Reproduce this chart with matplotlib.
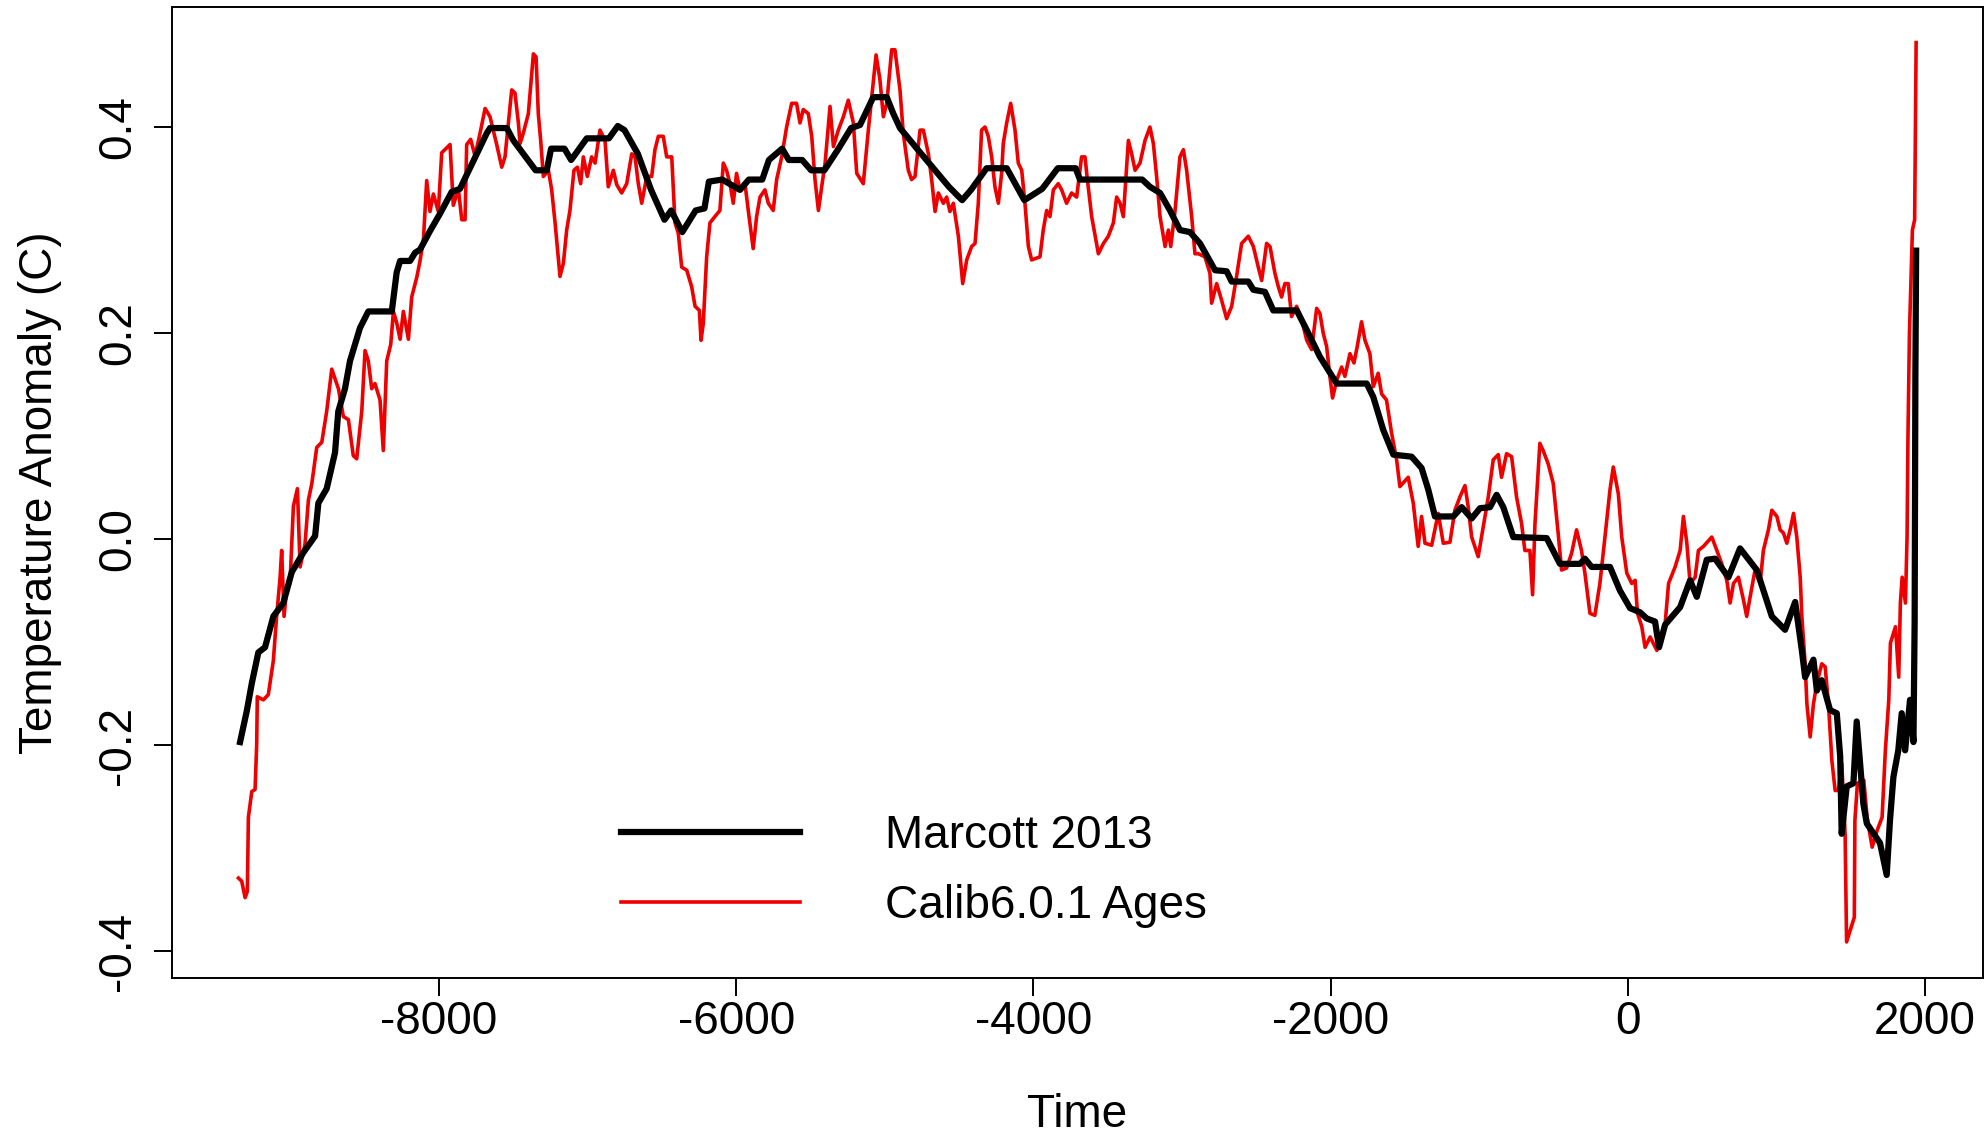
import matplotlib.pyplot as plt
from matplotlib.lines import Line2D

plt.rcParams['font.family'] = ['Liberation Sans', 'DejaVu Sans']
plt.rcParams['axes.unicode_minus'] = False

# Marcott 2013 reconstruction
marcott_year = [-9339, -9294, -9260, -9216, -9171, -9115, -9048, -8991, -8913, -8834,
                -8812, -8756, -8700, -8678, -8633, -8599, -8532, -8476, -8318, -8285,
                -8262, -8195, -8161, -8128, -8061, -7993, -7915, -7859, -7769, -7679,
                -7657, -7544, -7500, -7350, -7275, -7246, -7156, -7111, -7006, -6857,
                -6797, -6752, -6662, -6573, -6483, -6438, -6363, -6273, -6214, -6184,
                -6094, -5975, -5915, -5825, -5780, -5691, -5646, -5556, -5496, -5407,
                -5316, -5227, -5167, -5078, -4987, -4943, -4898, -4778, -4644, -4569,
                -4480, -4420, -4315, -4180, -4061, -3941, -3836, -3716, -3687, -3268,
                -3216, -3148, -3081, -3014, -2947, -2879, -2778, -2700, -2666, -2554,
                -2520, -2442, -2386, -2228, -2161, -2072, -1959, -1757, -1713, -1646,
                -1578, -1455, -1388, -1343, -1298, -1174, -1118, -1051, -995, -928,
                -883, -838, -771, -546, -457, -322, -289, -244, -120, -53,
                15, 82, 127, 183, 210, 251, 352, 419, 464, 531,
                587, 677, 755, 868, 969, 1058, 1126, 1171, 1193, 1249,
                1272, 1305, 1361, 1406, 1429, 1439, 1473, 1518, 1540, 1585,
                1608, 1697, 1742, 1764, 1787, 1820, 1843, 1866, 1899, 1922,
                1930, 1935, 1940]
marcott_temp = [-0.197, -0.167, -0.140, -0.110, -0.105, -0.075, -0.062, -0.032, -0.013, 0.003,
                0.035, 0.049, 0.084, 0.124, 0.146, 0.173, 0.205, 0.221, 0.221, 0.259,
                0.270, 0.270, 0.278, 0.281, 0.299, 0.316, 0.337, 0.340, 0.367, 0.394,
                0.399, 0.399, 0.387, 0.358, 0.358, 0.379, 0.379, 0.368, 0.389, 0.389,
                0.401, 0.397, 0.374, 0.339, 0.310, 0.319, 0.298, 0.319, 0.321, 0.347,
                0.349, 0.339, 0.349, 0.349, 0.368, 0.379, 0.368, 0.368, 0.358, 0.358,
                0.378, 0.399, 0.402, 0.429, 0.429, 0.413, 0.399, 0.378, 0.355, 0.342,
                0.329, 0.339, 0.360, 0.360, 0.329, 0.340, 0.360, 0.360, 0.349, 0.349,
                0.342, 0.336, 0.319, 0.300, 0.298, 0.287, 0.261, 0.260, 0.250, 0.250,
                0.242, 0.240, 0.222, 0.222, 0.203, 0.177, 0.151, 0.151, 0.138, 0.106,
                0.082, 0.080, 0.069, 0.048, 0.022, 0.022, 0.031, 0.020, 0.030, 0.031,
                0.043, 0.031, 0.002, 0.001, -0.024, -0.024, -0.019, -0.027, -0.027, -0.050,
                -0.067, -0.071, -0.077, -0.080, -0.105, -0.083, -0.066, -0.040, -0.056, -0.020,
                -0.019, -0.037, -0.009, -0.030, -0.075, -0.088, -0.061, -0.108, -0.134, -0.117,
                -0.147, -0.137, -0.166, -0.169, -0.211, -0.286, -0.240, -0.237, -0.177, -0.257,
                -0.276, -0.295, -0.326, -0.273, -0.231, -0.205, -0.169, -0.205, -0.156, -0.197,
                -0.080, 0.160, 0.280]

# Calib6.0.1 ages version
calib_year = [-9350, -9328, -9305, -9290, -9283, -9260, -9238, -9227, -9223, -9182,
              -9149, -9115, -9093, -9070, -9059, -9043, -9025, -9003, -8980, -8953,
              -8935, -8902, -8879, -8856, -8823, -8789, -8756, -8722, -8677, -8644,
              -8610, -8577, -8554, -8520, -8498, -8476, -8453, -8431, -8397, -8375,
              -8352, -8325, -8307, -8285, -8262, -8240, -8206, -8184, -8150, -8128,
              -8105, -8083, -8061, -8038, -8005, -7982, -7926, -7904, -7870, -7847,
              -7825, -7814, -7787, -7758, -7724, -7690, -7657, -7612, -7578, -7556,
              -7511, -7489, -7466, -7455, -7433, -7399, -7376, -7365, -7347, -7332,
              -7316, -7298, -7264, -7242, -7219, -7186, -7163, -7141, -7119, -7092,
              -7069, -7047, -7029, -7002, -6973, -6950, -6917, -6883, -6861, -6827,
              -6804, -6771, -6737, -6703, -6681, -6659, -6636, -6602, -6569, -6547,
              -6524, -6491, -6468, -6434, -6412, -6390, -6367, -6333, -6300, -6277,
              -6248, -6237, -6222, -6199, -6177, -6144, -6110, -6087, -6065, -6042,
              -6020, -5998, -5975, -5941, -5919, -5886, -5863, -5840, -5807, -5784,
              -5751, -5728, -5694, -5661, -5627, -5594, -5571, -5549, -5515, -5492,
              -5470, -5447, -5425, -5402, -5369, -5346, -5313, -5279, -5246, -5212,
              -5189, -5145, -5111, -5088, -5059, -5033, -5010, -4987, -4954, -4932,
              -4898, -4876, -4842, -4820, -4797, -4763, -4741, -4707, -4685, -4662,
              -4640, -4606, -4584, -4562, -4539, -4505, -4476, -4449, -4416, -4393,
              -4371, -4349, -4326, -4304, -4281, -4259, -4236, -4214, -4203, -4180,
              -4153, -4124, -4102, -4079, -4057, -4034, -4012, -3956, -3934, -3911,
              -3889, -3866, -3833, -3810, -3777, -3743, -3709, -3676, -3653, -3637,
              -3608, -3563, -3529, -3496, -3462, -3440, -3417, -3395, -3361, -3339,
              -3316, -3283, -3249, -3216, -3193, -3171, -3148, -3114, -3092, -3076,
              -3047, -3014, -2991, -2969, -2935, -2913, -2890, -2846, -2812, -2801,
              -2767, -2734, -2700, -2666, -2633, -2599, -2554, -2520, -2487, -2464,
              -2431, -2408, -2375, -2352, -2330, -2308, -2285, -2263, -2229, -2195,
              -2161, -2128, -2094, -2072, -2050, -2027, -2005, -1987, -1960, -1926,
              -1904, -1870, -1843, -1821, -1792, -1769, -1736, -1713, -1680, -1657,
              -1624, -1590, -1556, -1534, -1478, -1444, -1411, -1388, -1365, -1320,
              -1276, -1242, -1197, -1164, -1130, -1096, -1074, -1051, -1007, -973,
              -939, -906, -872, -850, -816, -782, -749, -715, -693, -659,
              -641, -625, -592, -570, -536, -502, -469, -446, -412, -379,
              -345, -312, -289, -255, -222, -188, -154, -120, -98, -64,
              -41, -7, 26, 49, 65, 94, 116, 150, 195, 251,
              274, 318, 352, 374, 397, 419, 453, 475, 509, 565,
              599, 632, 666, 688, 711, 744, 778, 800, 823, 856,
              890, 912, 946, 969, 1003, 1025, 1047, 1070, 1092, 1115,
              1137, 1160, 1171, 1193, 1205, 1227, 1249, 1272, 1305, 1328,
              1350, 1373, 1395, 1417, 1440, 1462, 1472, 1524, 1528, 1545,
              1588, 1610, 1644, 1677, 1711, 1733, 1756, 1767, 1801, 1823,
              1834, 1846, 1868, 1879, 1885, 1895, 1915, 1930, 1940]
calib_temp = [-0.329, -0.332, -0.348, -0.342, -0.270, -0.245, -0.243, -0.199, -0.153, -0.156,
              -0.151, -0.118, -0.075, -0.038, -0.011, -0.075, -0.048, -0.043, 0.032, 0.049,
              -0.027, -0.005, 0.038, 0.054, 0.089, 0.094, 0.124, 0.165, 0.146, 0.119,
              0.116, 0.081, 0.078, 0.124, 0.183, 0.173, 0.146, 0.151, 0.135, 0.086,
              0.173, 0.189, 0.221, 0.210, 0.194, 0.221, 0.194, 0.235, 0.254, 0.270,
              0.291, 0.348, 0.318, 0.335, 0.318, 0.375, 0.383, 0.324, 0.340, 0.310,
              0.310, 0.383, 0.388, 0.372, 0.394, 0.418, 0.410, 0.383, 0.361, 0.371,
              0.436, 0.433, 0.404, 0.384, 0.394, 0.413, 0.452, 0.471, 0.468, 0.413,
              0.387, 0.352, 0.358, 0.339, 0.307, 0.255, 0.268, 0.300, 0.319, 0.358,
              0.361, 0.345, 0.371, 0.352, 0.371, 0.365, 0.397, 0.387, 0.342, 0.358,
              0.344, 0.336, 0.345, 0.374, 0.371, 0.345, 0.326, 0.352, 0.352, 0.378,
              0.391, 0.391, 0.371, 0.371, 0.307, 0.297, 0.264, 0.261, 0.245, 0.226,
              0.222, 0.193, 0.209, 0.274, 0.307, 0.313, 0.319, 0.365, 0.358, 0.345,
              0.326, 0.355, 0.339, 0.345, 0.319, 0.282, 0.313, 0.332, 0.339, 0.326,
              0.319, 0.349, 0.371, 0.400, 0.423, 0.423, 0.404, 0.417, 0.413, 0.391,
              0.349, 0.319, 0.342, 0.365, 0.420, 0.381, 0.397, 0.410, 0.426, 0.404,
              0.355, 0.345, 0.397, 0.429, 0.470, 0.446, 0.410, 0.423, 0.475, 0.475,
              0.436, 0.394, 0.358, 0.349, 0.352, 0.397, 0.397, 0.374, 0.349, 0.318,
              0.336, 0.326, 0.332, 0.318, 0.326, 0.294, 0.248, 0.271, 0.284, 0.287,
              0.326, 0.397, 0.400, 0.391, 0.371, 0.342, 0.326, 0.355, 0.384, 0.404,
              0.423, 0.397, 0.365, 0.358, 0.326, 0.284, 0.271, 0.274, 0.300, 0.319,
              0.313, 0.339, 0.345, 0.339, 0.326, 0.336, 0.332, 0.371, 0.371, 0.349,
              0.313, 0.277, 0.287, 0.294, 0.307, 0.332, 0.326, 0.313, 0.387, 0.374,
              0.358, 0.365, 0.387, 0.400, 0.384, 0.352, 0.313, 0.284, 0.300, 0.284,
              0.319, 0.371, 0.378, 0.358, 0.313, 0.277, 0.277, 0.274, 0.258, 0.229,
              0.248, 0.232, 0.214, 0.226, 0.255, 0.287, 0.294, 0.284, 0.264, 0.251,
              0.287, 0.284, 0.258, 0.245, 0.235, 0.248, 0.248, 0.216, 0.226, 0.213,
              0.193, 0.184, 0.224, 0.219, 0.200, 0.187, 0.158, 0.137, 0.154, 0.167,
              0.158, 0.180, 0.171, 0.187, 0.211, 0.193, 0.180, 0.148, 0.161, 0.141,
              0.135, 0.103, 0.077, 0.051, 0.060, 0.035, -0.007, 0.022, -0.004, -0.006,
              0.025, -0.004, -0.003, 0.028, 0.041, 0.052, 0.031, 0.002, -0.017, 0.012,
              0.041, 0.077, 0.082, 0.060, 0.083, 0.080, 0.041, 0.015, -0.011, -0.011,
              -0.054, 0.015, 0.093, 0.086, 0.073, 0.054, 0.006, -0.030, -0.028, -0.014,
              0.009, -0.011, -0.033, -0.072, -0.074, -0.043, 0.002, 0.048, 0.070, 0.044,
              0.002, -0.033, -0.043, -0.040, -0.072, -0.085, -0.105, -0.095, -0.108, -0.082,
              -0.043, -0.027, -0.011, 0.022, -0.004, -0.043, -0.037, -0.011, -0.007, 0.002,
              -0.011, -0.024, -0.040, -0.062, -0.043, -0.037, -0.059, -0.075, -0.056, -0.030,
              -0.043, -0.011, 0.009, 0.028, 0.022, 0.009, 0.006, -0.004, 0.009, 0.025,
              0.002, -0.037, -0.075, -0.121, -0.160, -0.192, -0.160, -0.140, -0.121, -0.124,
              -0.160, -0.215, -0.244, -0.244, -0.218, -0.286, -0.391, -0.367, -0.273, -0.237,
              -0.234, -0.270, -0.299, -0.283, -0.270, -0.205, -0.156, -0.101, -0.085, -0.134,
              -0.062, -0.037, -0.062, 0.002, 0.099, 0.200, 0.300, 0.310, 0.482]

x_ticks = [-8000, -6000, -4000, -2000, 0, 2000]
y_ticks = [-0.4, -0.2, 0.0, 0.2, 0.4]
y_ticklabels = ['-0.4', '-0.2', '0.0', '0.2', '0.4']

fs = 33
fig = plt.figure(figsize=(19.87, 11.33), dpi=100)
ax = fig.add_axes([172 / 1987, 1 - 978 / 1133, 1811 / 1987, 971 / 1133])

ax.plot(calib_year, calib_temp, color='#ee0000', lw=2.6)
ax.plot(marcott_year, marcott_temp, color='black', lw=4.5)

ax.set_xlim(-9797, 2390)
ax.set_ylim(-0.426, 0.5165)

ax.set_xticks(x_ticks)
ax.set_xticklabels([str(v) for v in x_ticks])
ax.set_yticks(y_ticks)
ax.set_yticklabels(y_ticklabels, rotation=90, va='center')
ax.tick_params(axis='both', length=13, width=1.4, labelsize=fs, direction='out')
ax.tick_params(axis='x', pad=3)
ax.tick_params(axis='y', pad=10)
for sp in ax.spines.values():
    sp.set_linewidth(1.4)

ax.set_xlabel('Time', fontsize=fs)
ax.xaxis.set_label_coords(0.5, -0.118)
ax.set_ylabel('Temperature Anomaly (C)', fontsize=fs, va='center')
ax.yaxis.set_label_coords(-0.0729, 0.5)

handles = [Line2D([], [], color='black', lw=4.5), Line2D([], [], color='#ee0000', lw=2.6)]
ax.legend(handles, ['Marcott 2013', 'Calib6.0.1 Ages'], loc='center left',
          bbox_to_anchor=(621 / 1987, 1 - 871 / 1133), bbox_transform=fig.transFigure,
          frameon=False, fontsize=fs, handlelength=3.9, handletextpad=1.85,
          labelspacing=0.55, borderpad=0, borderaxespad=0)

fig.savefig('out.png', dpi=100)
